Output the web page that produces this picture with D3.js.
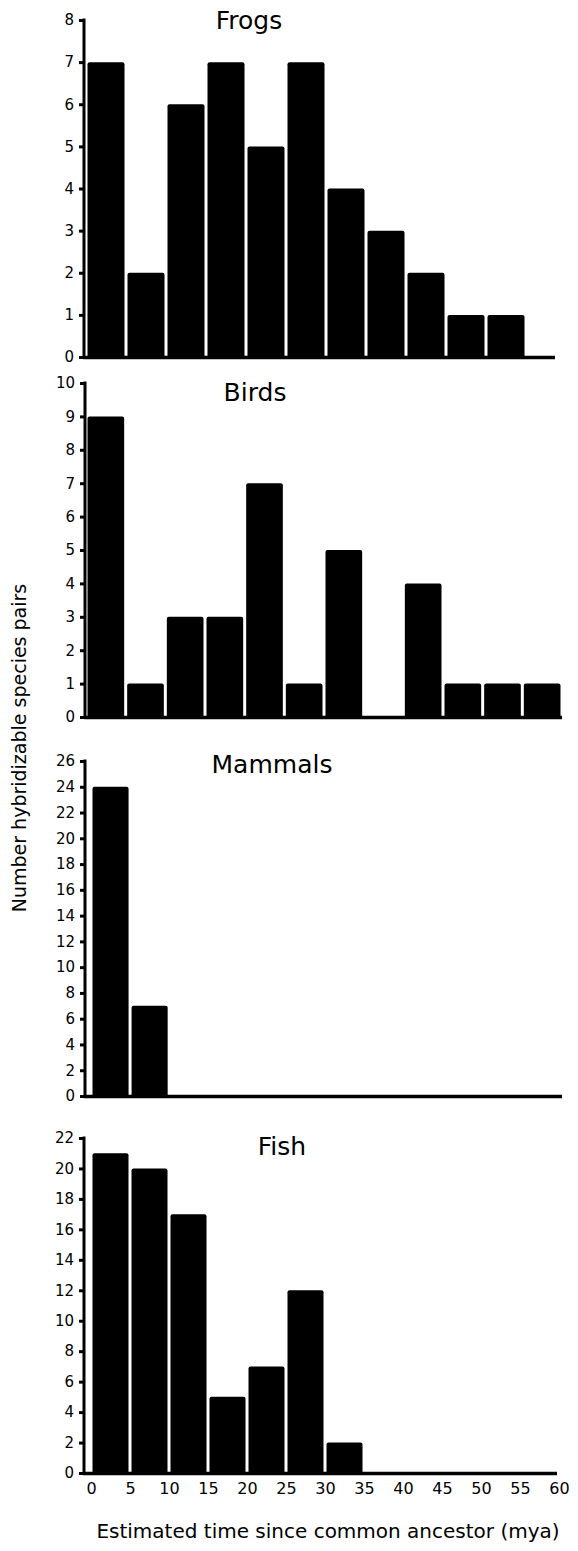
<!DOCTYPE html>
<html>
<head>
<meta charset="utf-8">
<script src="https://cdn.jsdelivr.net/npm/d3@7"></script>
<style>
  html, body { margin: 0; padding: 0; background: #fff; }
  svg { display: block; }
</style>
</head>
<body>
<svg id="chart" width="578" height="1551"></svg>
<script>
// ---- data ----
const binStarts = [0, 5, 10, 15, 20, 25, 30, 35, 40, 45, 50, 55];
const binWidth = 5;
const frogs   = [7, 2, 6, 7, 5, 7, 4, 3, 2, 1, 1, 0];
const birds   = [9, 1, 3, 3, 7, 1, 5, 0, 4, 1, 1, 1];
const mammals = [24, 7, 0, 0, 0, 0, 0, 0, 0, 0, 0, 0];
const fish    = [21, 20, 17, 5, 7, 12, 2, 0, 0, 0, 0, 0];

const frogTicks   = [0, 1, 2, 3, 4, 5, 6, 7, 8];
const birdTicks   = [0, 1, 2, 3, 4, 5, 6, 7, 8, 9, 10];
const mammalTicks = [0, 2, 4, 6, 8, 10, 12, 14, 16, 18, 20, 22, 24, 26];
const fishTicks   = [0, 2, 4, 6, 8, 10, 12, 14, 16, 18, 20, 22];
const xTickLabels = [0, 5, 10, 15, 20, 25, 30, 35, 40, 45, 50, 55, 60];

const titles = ["Frogs", "Birds", "Mammals", "Fish"];
const yTitle = "Number hybridizable species pairs";
const xTitle = "Estimated time since common ancestor (mya)";

// ---- layout (pixels) ----
const panels = [
  { name: titles[0], values: frogs,   ticks: frogTicks,   yBase: 357,  yTop: 20,   axisX: 84, xr: [86, 566], baseEnd: 555, tx: 249, ty: 29 },
  { name: titles[1], values: birds,   ticks: birdTicks,   yBase: 717,  yTop: 383,  axisX: 85, xr: [86, 562], baseEnd: 562, tx: 255, ty: 401 },
  { name: titles[2], values: mammals, ticks: mammalTicks, yBase: 1096, yTop: 761,  axisX: 85, xr: [91, 560], baseEnd: 562, tx: 272, ty: 773 },
  { name: titles[3], values: fish,    ticks: fishTicks,   yBase: 1473, yTop: 1138, axisX: 84, xr: [91, 559], baseEnd: 557, tx: 282, ty: 1155 }
];

const svg = d3.select("#chart");
const tickFont = "DejaVu Sans, Verdana, sans-serif";

panels.forEach((p, i) => {
  const g = svg.append("g");
  const maxT = d3.max(p.ticks);
  const y = d3.scaleLinear().domain([0, maxT]).range([p.yBase, p.yTop]);
  const x = d3.scaleLinear().domain([0, 60]).range(p.xr);

  // bars
  const data = binStarts.map((b, k) => ({ b, v: p.values[k] })).filter(d => d.v > 0);
  g.selectAll("path.bar").data(data).enter().append("path")
    .attr("class", "bar")
    .attr("fill", "#000")
    .attr("d", d => {
      const x0 = x(d.b) + 1.5, x1 = x(d.b + binWidth) - 1.5;
      const yt = y(d.v), yb = p.yBase;
      const r = 2;
      return `M${x0},${yb} L${x0},${yt + r} Q${x0},${yt} ${x0 + r},${yt} L${x1 - r},${yt} Q${x1},${yt} ${x1},${yt + r} L${x1},${yb} Z`;
    });

  // baseline
  g.append("line")
    .attr("x1", p.axisX - 1).attr("x2", p.baseEnd)
    .attr("y1", p.yBase + 0.5).attr("y2", p.yBase + 0.5)
    .attr("stroke", "#000").attr("stroke-width", 3.5);

  // y axis line
  g.append("line")
    .attr("x1", p.axisX).attr("x2", p.axisX)
    .attr("y1", p.yTop - 1.5).attr("y2", p.yBase + 2)
    .attr("stroke", "#000").attr("stroke-width", 3);

  // y axis ticks + labels via d3 axis
  const ax = d3.axisLeft(y).tickValues(p.ticks).tickSize(5).tickPadding(5).tickFormat(d3.format("d"));
  const axG = g.append("g").attr("transform", `translate(${p.axisX},0)`).call(ax);
  axG.attr("font-size", null).attr("font-family", null);
  axG.select(".domain").remove();
  axG.selectAll(".tick line").attr("stroke", "#000").attr("stroke-width", 3);
  axG.selectAll(".tick text")
    .attr("fill", "#000")
    .attr("font-family", tickFont)
    .attr("font-size", 15);

  // title
  g.append("text")
    .attr("x", p.tx).attr("y", p.ty)
    .attr("text-anchor", "middle")
    .style("font-family", tickFont)
    .style("font-size", "25px")
    .attr("fill", "#000")
    .text(p.name);

  // x axis labels on bottom panel
  if (i === panels.length - 1) {
    const xa = d3.axisBottom(x).tickValues(xTickLabels).tickSize(0).tickPadding(10).tickFormat(d3.format("d"));
    const xg = g.append("g").attr("transform", `translate(0,${p.yBase})`).call(xa);
    xg.attr("font-size", null).attr("font-family", null);
    xg.select(".domain").remove();
    xg.selectAll(".tick text")
      .attr("fill", "#000")
      .attr("font-family", tickFont)
      .attr("font-size", 16);
  }
});

// axis titles
svg.append("text")
  .attr("transform", "translate(26,748) rotate(-90)")
  .attr("text-anchor", "middle")
  .style("font-family", tickFont)
  .style("font-size", "19px")
  .attr("fill", "#000")
  .text(yTitle);

svg.append("text")
  .attr("x", 328).attr("y", 1538)
  .attr("text-anchor", "middle")
  .style("font-family", tickFont)
  .style("font-size", "20px")
  .attr("fill", "#000")
  .text(xTitle);
</script>
</body>
</html>
